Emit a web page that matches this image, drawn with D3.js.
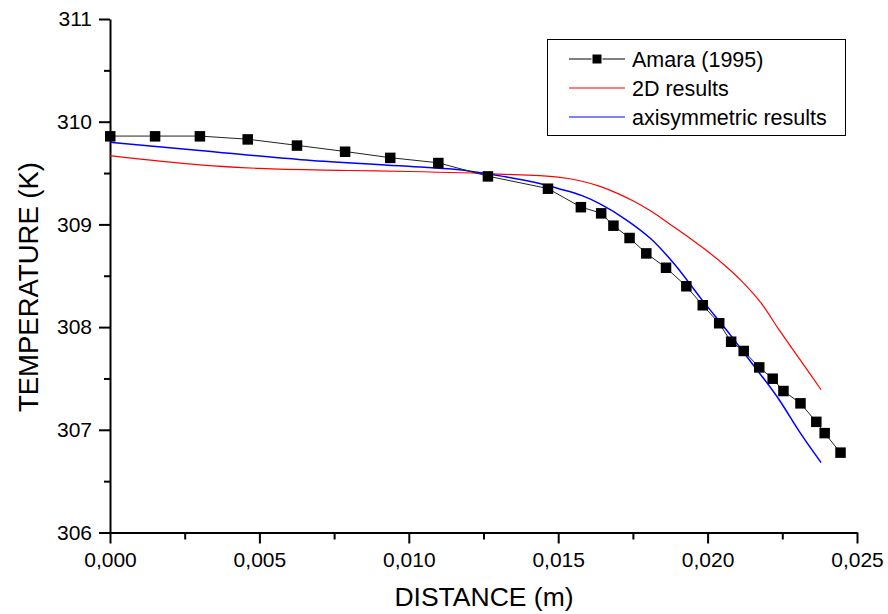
<!DOCTYPE html>
<html>
<head>
<meta charset="utf-8">
<script src="https://cdn.jsdelivr.net/npm/d3@7"></script>
<style>
body { margin: 0; background: #fff; }
text { font-family: "Liberation Sans", Arial, sans-serif; }
</style>
</head>
<body>
<script>
// Amara (1995) measured points
var amaraX = [0, 0.0015, 0.0030, 0.0046, 0.00625, 0.00786, 0.00937, 0.01098, 0.01264, 0.01465,
	0.01575, 0.01643, 0.01684, 0.01738, 0.01794, 0.01860, 0.01928, 0.01983, 0.02038, 0.02078,
	0.02120, 0.02172, 0.02217, 0.02253, 0.02310, 0.02363, 0.02391, 0.02444];
var amaraY = [309.86, 309.86, 309.86, 309.83, 309.77, 309.71, 309.65, 309.60, 309.47, 309.35,
	309.17, 309.11, 308.99, 308.87, 308.72, 308.58, 308.40, 308.215, 308.04, 307.86,
	307.77, 307.61, 307.50, 307.38, 307.26, 307.08, 306.97, 306.78];

// 2D results
var twoDX = [0, 0.0030, 0.0050, 0.0080, 0.0100, 0.0130, 0.0150, 0.0158, 0.0164, 0.0170,
	0.0175, 0.0181, 0.0186, 0.0192, 0.0199, 0.0205, 0.0211, 0.0218, 0.0224, 0.0231, 0.0238];
var twoDY = [309.67, 309.58, 309.545, 309.525, 309.515, 309.49, 309.46, 309.42, 309.37, 309.30,
	309.23, 309.13, 309.03, 308.91, 308.76, 308.62, 308.46, 308.23, 307.97, 307.68, 307.39];

// axisymmetric results
var axiX = [0, 0.0030, 0.0064, 0.0097, 0.0120, 0.0131, 0.0142, 0.0150, 0.0158, 0.0164,
	0.0173, 0.0181, 0.0189, 0.0198, 0.0208, 0.0214, 0.0224, 0.0231, 0.0238];
var axiY = [309.80, 309.72, 309.63, 309.57, 309.52, 309.47, 309.41, 309.35, 309.28, 309.20,
	309.04, 308.86, 308.61, 308.27, 307.91, 307.68, 307.29, 306.97, 306.68];

var xTicks = [0, 0.005, 0.010, 0.015, 0.020, 0.025];
var yTicks = [306, 307, 308, 309, 310, 311];
var legendLabels = ['Amara (1995)', '2D results', 'axisymmetric results'];

var svg = d3.select('body').append('svg')
	.attr('width', 888)
	.attr('height', 614);

var x = d3.scaleLinear().domain([0, 0.025]).range([110, 857]);
var y = d3.scaleLinear().domain([306, 311]).range([532.5, 19]);

var comma = d3.formatLocale({decimal: ',', thousands: '.', grouping: [3], currency: ['', '']});
var fmt = comma.format('.3f');

// minor ticks first
svg.append('g')
	.attr('transform', 'translate(0,532.5)')
	.call(d3.axisBottom(x).tickValues(d3.range(0.0025, 0.025, 0.005)).tickSize(7).tickFormat(''))
	.call(function(g){ g.select('.domain').remove(); });

svg.append('g')
	.attr('transform', 'translate(110,0)')
	.call(d3.axisLeft(y).tickValues(d3.range(306.5, 311, 1)).tickSize(6).tickFormat(''))
	.call(function(g){ g.select('.domain').remove(); });

var xAxis = svg.append('g')
	.attr('transform', 'translate(0,532.5)')
	.call(d3.axisBottom(x).tickValues(xTicks).tickSize(11).tickSizeOuter(0).tickPadding(9).tickFormat(fmt));

var yAxis = svg.append('g')
	.attr('transform', 'translate(110,0)')
	.call(d3.axisLeft(y).tickValues(yTicks).tickSize(11).tickSizeOuter(0).tickPadding(7).tickFormat(d3.format('d')));

svg.selectAll('.tick line').attr('stroke-width', 2);
svg.selectAll('.domain').attr('stroke-width', 2);
svg.selectAll('.tick text').attr('font-size', 21).attr('fill', '#000')
	.style('font-family', '"Liberation Sans", Arial, sans-serif');

// axis titles
svg.append('text')
	.attr('x', 484)
	.attr('y', 606)
	.attr('text-anchor', 'middle')
	.attr('font-size', 26.5)
	.text('DISTANCE (m)');

svg.append('text')
	.attr('transform', 'translate(38,287) rotate(-90)')
	.attr('text-anchor', 'middle')
	.attr('font-size', 27.5)
	.text('TEMPERATURE (K)');

var line = d3.line()
	.x(function(d){ return x(d[0]); })
	.y(function(d){ return y(d[1]); })
	.curve(d3.curveMonotoneX);

var redData = twoDX.map(function(v, i){ return [v, twoDY[i]]; });
var blueData = axiX.map(function(v, i){ return [v, axiY[i]]; });
var amaraData = amaraX.map(function(v, i){ return [v, amaraY[i]]; });

svg.append('path')
	.datum(redData)
	.attr('d', line)
	.attr('fill', 'none')
	.attr('stroke', '#ff0000')
	.attr('stroke-width', 1.2);

svg.append('path')
	.datum(blueData)
	.attr('d', line)
	.attr('fill', 'none')
	.attr('stroke', '#0000ff')
	.attr('stroke-width', 1.5);

svg.append('path')
	.datum(amaraData)
	.attr('d', d3.line().x(function(d){ return x(d[0]); }).y(function(d){ return y(d[1]); }))
	.attr('fill', 'none')
	.attr('stroke', '#222')
	.attr('stroke-width', 1);

svg.selectAll('.amara')
	.data(amaraData)
	.enter().append('rect')
	.attr('class', 'amara')
	.attr('x', function(d){ return x(d[0]) - 5; })
	.attr('y', function(d){ return y(d[1]) - 5; })
	.attr('width', 10.5)
	.attr('height', 10.5)
	.attr('fill', '#000');

// legend
var legend = svg.append('g');
legend.append('rect')
	.attr('x', 547.5)
	.attr('y', 39.5)
	.attr('width', 298)
	.attr('height', 96)
	.attr('fill', '#fff')
	.attr('stroke', '#000')
	.attr('stroke-width', 1);

var legendColors = ['#000', '#ff0000', '#0000ff'];
legendLabels.forEach(function(lbl, i){
	var ly = 59 + i * 29;
	legend.append('line')
		.attr('x1', 569).attr('x2', 625)
		.attr('y1', ly).attr('y2', ly)
		.attr('stroke', legendColors[i])
		.attr('stroke-width', i == 0 ? 1 : 1.2);
	if (i == 0) {
		legend.append('rect')
			.attr('x', 592).attr('y', ly - 5)
			.attr('width', 10).attr('height', 10)
			.attr('fill', '#000')
			.attr('stroke', '#fff')
			.attr('stroke-width', 1);
	}
	legend.append('text')
		.attr('x', 632)
		.attr('y', ly + 7.5)
		.attr('font-size', 21.5)
		.text(lbl);
});
</script>
</body>
</html>
